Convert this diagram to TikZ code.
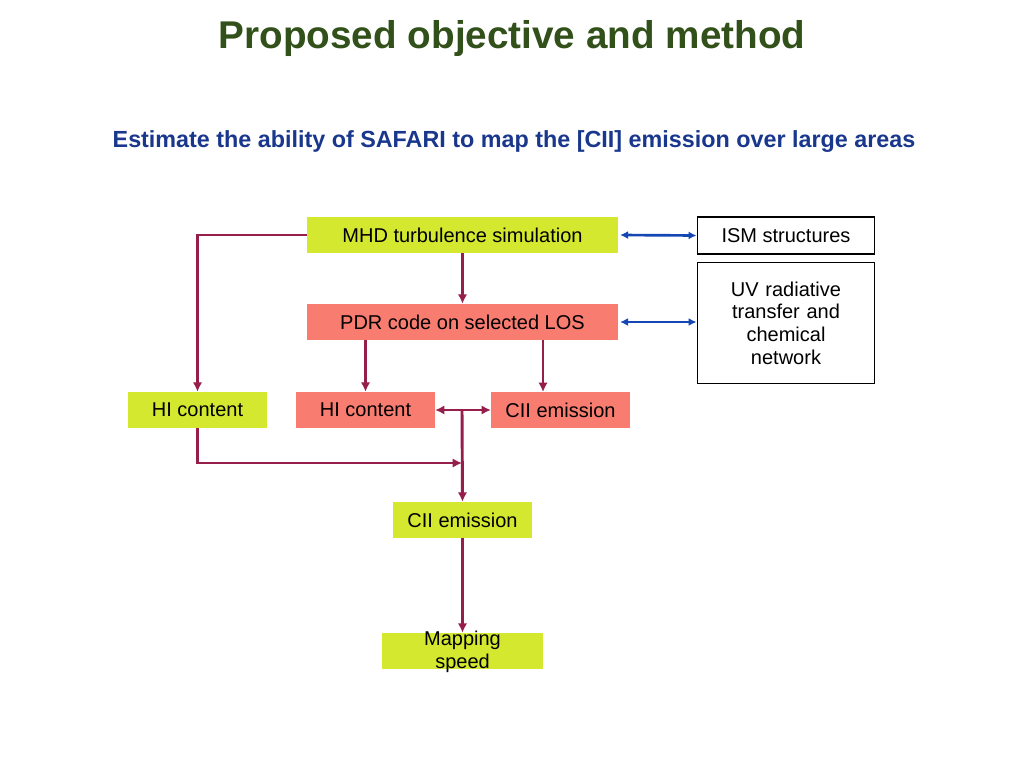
\documentclass[tikz,border=0pt]{standalone}
\usepackage{fontspec}
\setmainfont{Liberation Sans}
\usetikzlibrary{arrows.meta}
\definecolor{gbox}{RGB}{212,232,48}
\definecolor{sbox}{RGB}{248,124,112}
\definecolor{lnk}{RGB}{150,30,75}
\definecolor{blu}{RGB}{20,70,180}
\definecolor{ttl}{RGB}{50,80,25}
\definecolor{sub}{RGB}{25,55,140}
\begin{document}
\begin{tikzpicture}[x=0.75pt,y=-0.75pt,
  bx/.style={inner sep=0pt,font=\fontsize{15}{17}\selectfont,align=center},
  gb/.style={bx,fill=gbox},
  sb/.style={bx,fill=sbox},
  wb/.style={bx,draw=black,line width=1.2pt},
  ln/.style={draw=lnk,line width=2.2pt,-{Latex[length=7pt,width=7pt]}},
  bl/.style={draw=blu,line width=2pt,{Latex[length=6pt,width=6pt]}-{Latex[length=6pt,width=6pt]}}]
\useasboundingbox[fill=white] (0,0) rectangle (1024,768);
\node[font=\bfseries\fontsize{29}{32}\selectfont,text=ttl] (t) at (512,38) {Proposed objective and method};
\node[font=\bfseries\fontsize{17.5}{20}\selectfont,text=sub] (s) at (514,142) {Estimate the ability of SAFARI to map the [CII] emission over large areas};
\node[gb,minimum width=311\pgflinewidth,minimum width=233pt,minimum height=27pt] (mhd) at (462.5,235) {MHD turbulence simulation};
\node[sb,minimum width=233pt,minimum height=27pt] (pdr) at (462.5,322) {PDR code on selected LOS};
\node[gb,minimum width=104pt,minimum height=27pt] (hil) at (197.5,410) {HI content};
\node[sb,minimum width=104pt,minimum height=27pt] (him) at (365.5,410) {HI content};
\node[sb,minimum width=104pt,minimum height=27pt] (ciim) at (560.5,410) {CII emission};
\node[gb,minimum width=104pt,minimum height=27pt] (ciib) at (462.5,520) {CII emission};
\node[gb,minimum width=121pt,minimum height=27pt] (map) at (462.5,651) {};
\node[bx] (mapt) at (462.5,652) {Mapping\\speed};
\node[wb,minimum width=133pt,minimum height=28pt] (ism) at (786,235.5) {ISM structures};
\node[wb,minimum width=133pt,minimum height=91pt,text width=125pt] (uv) at (786,323) {UV radiative\\transfer and\\chemical\\network};
\coordinate (j) at (462,410);
\coordinate (k) at (462,463);
\draw[ln] (mhd.west) -| (hil.north);
\draw[ln] (mhd.south) -- (pdr.north);
\draw[ln] (pdr.south -| him) -- (him.north);
\draw[ln] (pdr.south -| 543,0) -- (543,392);
\draw[ln] (j) -- (him.east);
\draw[ln] (j) -- (ciim.west);
\draw[ln] (j) -- (ciib.north);
\draw[ln] (hil.south) |- (k);
\draw[ln] (ciib.south) -- (map.north);
\draw[bl] (mhd.east) ++(2,0) -- (ism.west);
\draw[bl] (pdr.east) ++(2,0) -- (pdr.east -| uv.west);
\end{tikzpicture}
\end{document}
